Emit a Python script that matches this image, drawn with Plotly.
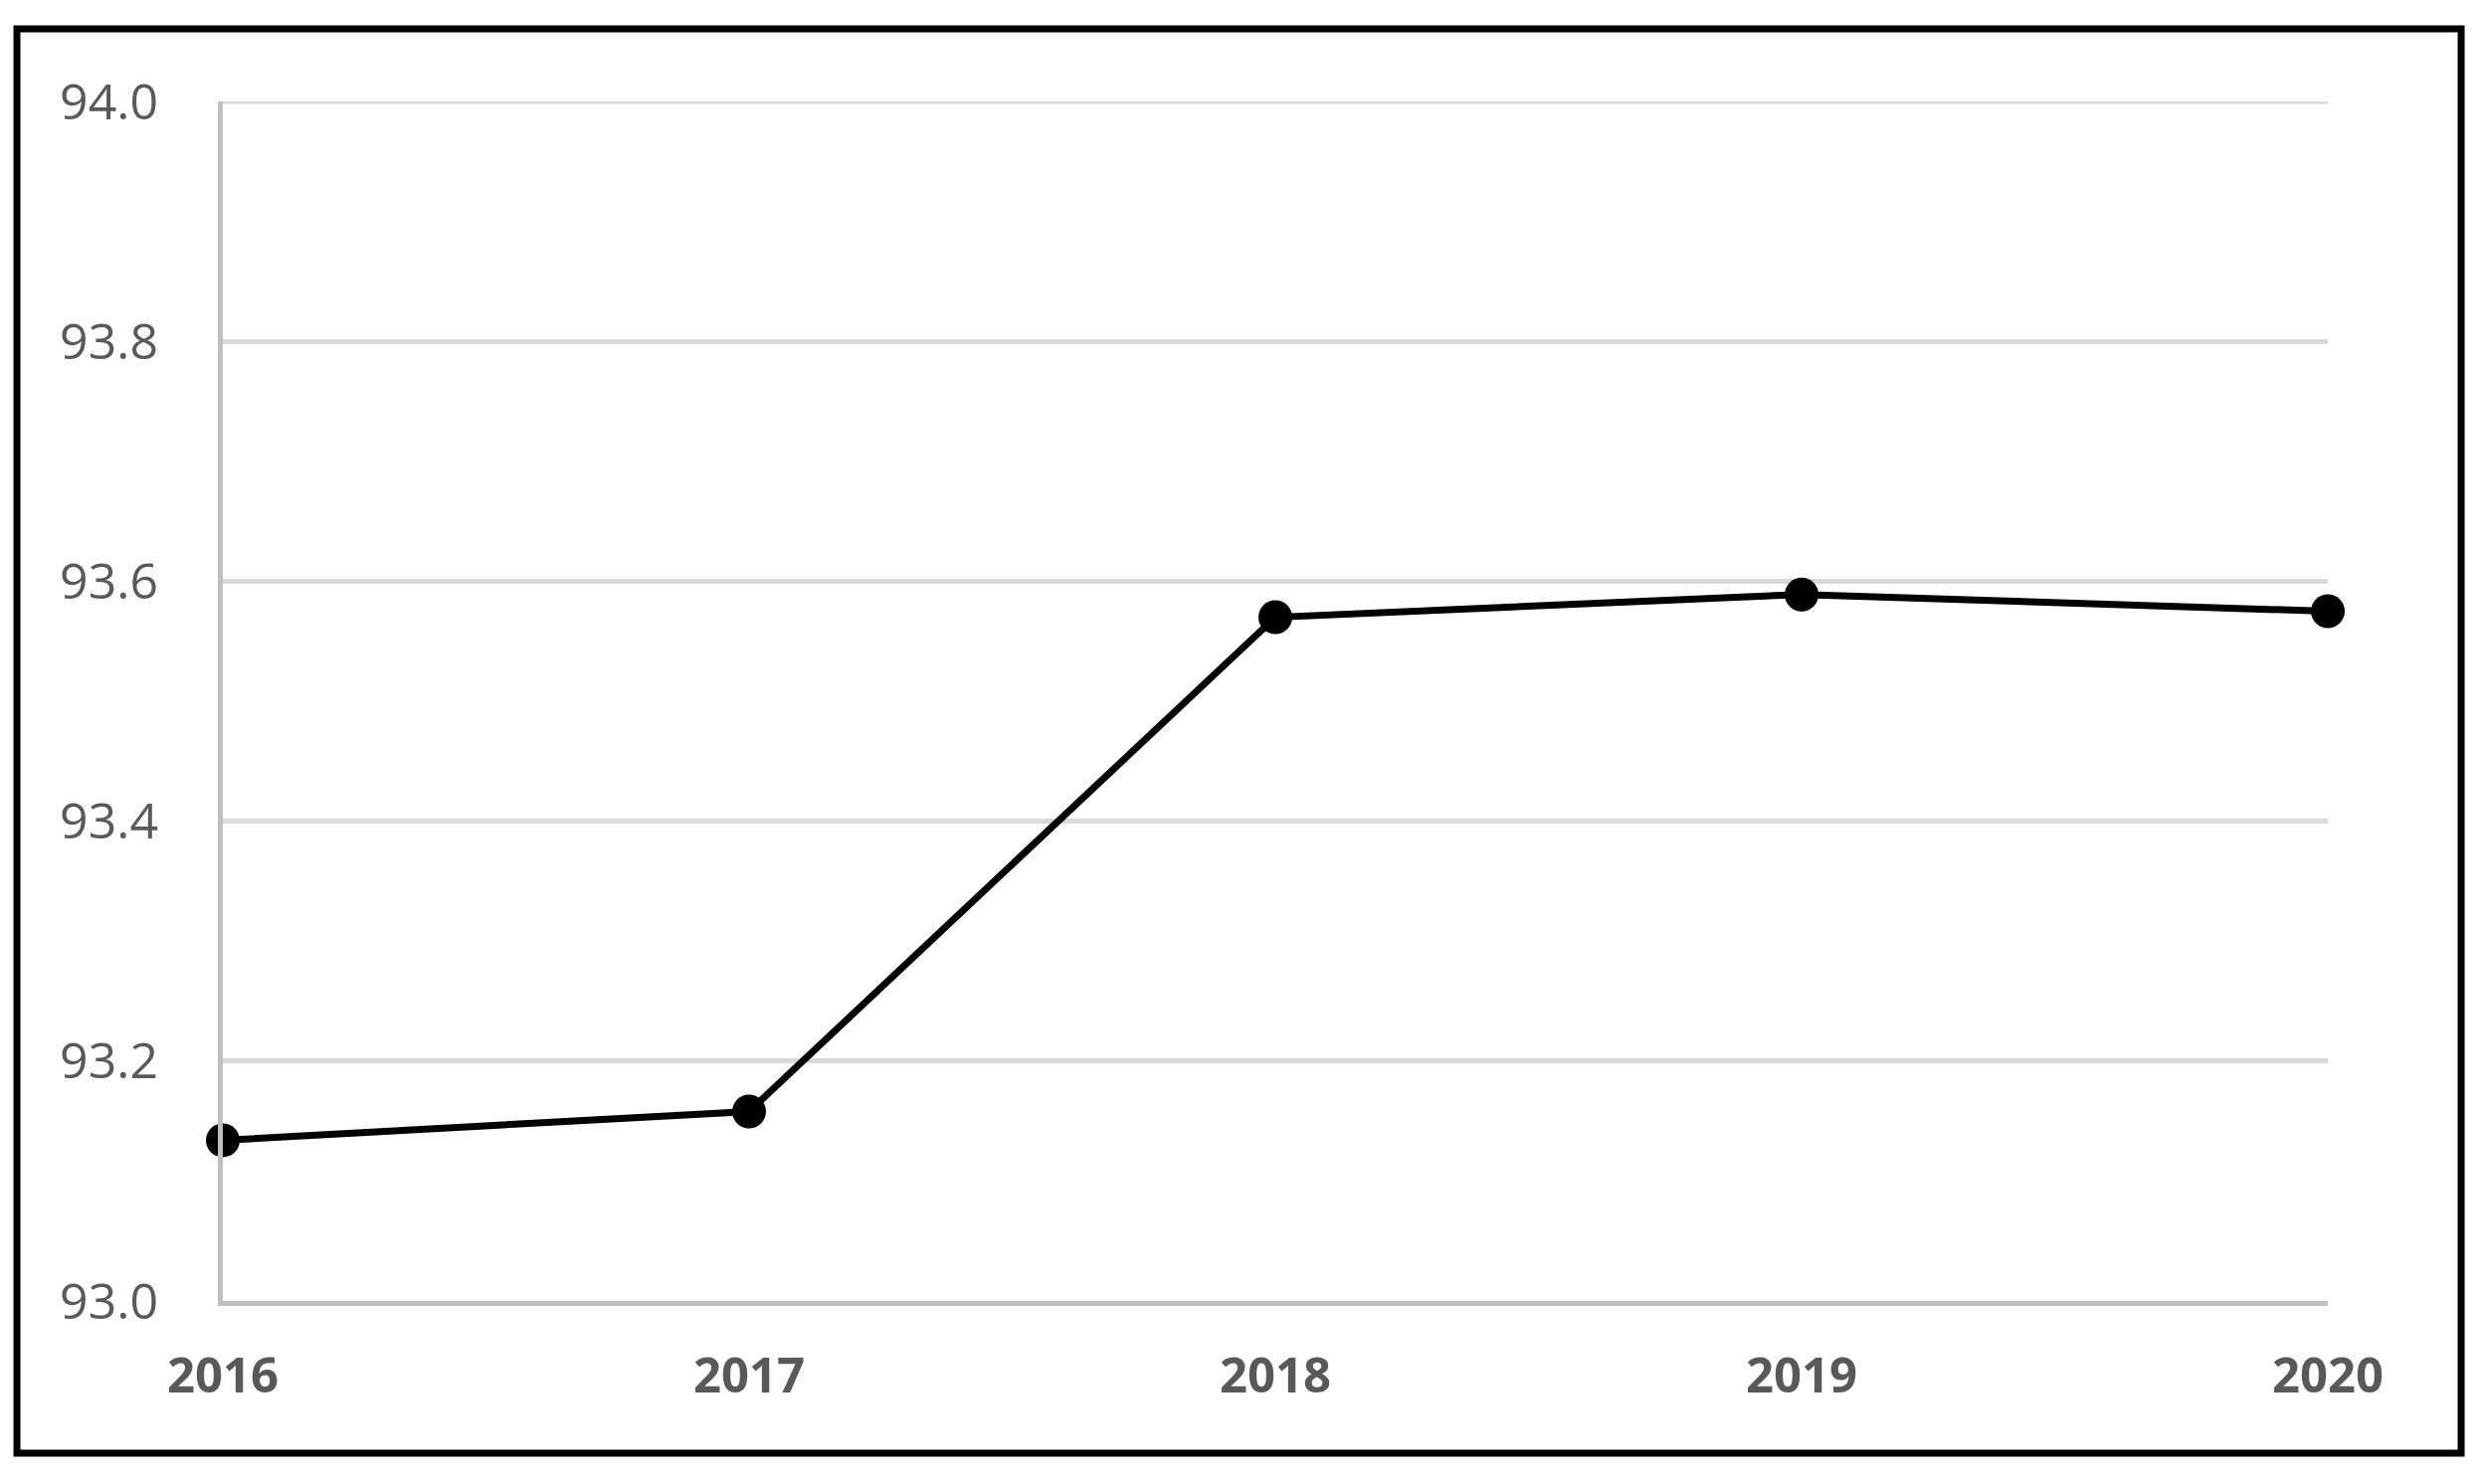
import plotly.graph_objects as go

YEARS = [2016, 2017, 2018, 2019, 2020]
VALUES = [93.134, 93.158, 93.570, 93.589, 93.575]
Y_TICKS = [93.0, 93.2, 93.4, 93.6, 93.8, 94.0]

W, H = 2500, 1492
OFF = 8  # default body margin of the html page
L, R, T, B = 224 - OFF, 160 + OFF, 102 - OFF, 184 + OFF
PW, PH = W - L - R, H - T - B


def px_to_paper(x, y):
    # x, y are pixel positions in the screenshot
    return (x - OFF - L) / PW, (H - B - (y - OFF)) / PH


fig = go.Figure(
    go.Scatter(
        x=YEARS,
        y=VALUES,
        mode="lines+markers",
        line=dict(color="black", width=7),
        marker=dict(color="black", size=34),
        cliponaxis=False,
        hoverinfo="x+y",
    )
)

bx0, by0 = px_to_paper(17, 1461)
bx1, by1 = px_to_paper(2474, 29)

fig.update_layout(
    width=W,
    height=H,
    paper_bgcolor="white",
    plot_bgcolor="white",
    showlegend=False,
    margin=dict(l=L, r=R, t=T, b=B, pad=0),
    font=dict(family="Open Sans, sans-serif", color="#595959"),
    xaxis=dict(
        range=[YEARS[0], YEARS[-1]],
        tickvals=YEARS,
        ticktext=[f"<b>{y}</b>" for y in YEARS],
        tickfont=dict(size=49, color="#595959"),
        showgrid=False,
        zeroline=False,
        showline=True,
        linecolor="#bfbfbf",
        linewidth=5,
        ticks="",
        ticklabelstandoff=28,
    ),
    yaxis=dict(
        range=[Y_TICKS[0], Y_TICKS[-1]],
        tickvals=Y_TICKS,
        ticktext=[f"{v:.1f}" for v in Y_TICKS],
        tickfont=dict(size=50, color="#595959"),
        showgrid=True,
        gridcolor="#d9d9d9",
        gridwidth=5,
        zeroline=False,
        showline=True,
        linecolor="#bfbfbf",
        linewidth=5,
        ticks="",
        ticklabelstandoff=50,
    ),
    shapes=[
        # top gridline, which plotly leaves out at the range edge
        dict(
            type="line",
            xref="paper", yref="y",
            x0=0, x1=1, y0=Y_TICKS[-1], y1=Y_TICKS[-1],
            line=dict(color="#d9d9d9", width=5),
            layer="below",
        ),
        dict(
            type="rect",
            xref="paper", yref="paper",
            x0=bx0, y0=by0, x1=bx1, y1=by1,
            line=dict(color="black", width=7),
            layer="above",
        ),
    ],
)

fig.write_html("out.html")
